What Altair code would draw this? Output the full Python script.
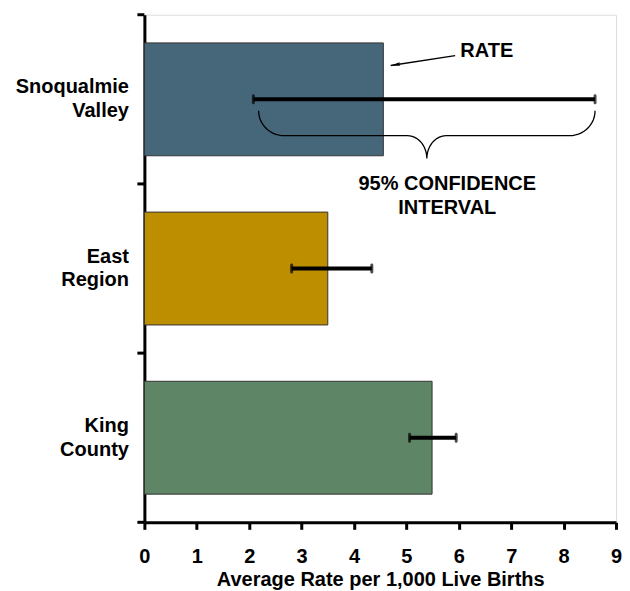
import altair as alt
import pandas as pd
import numpy as np

# ---- data ----
regions = ["Snoqualmie Valley", "East Region", "King County"]
rates = [4.56, 3.50, 5.49]
ci_low = [2.08, 2.81, 5.06]
ci_high = [8.60, 4.34, 5.95]
bar_colors = ["#466779", "#BC8E00", "#5E8566"]
x_ticks = [0, 1, 2, 3, 4, 5, 6, 7, 8, 9]
x_title = "Average Rate per 1,000 Live Births"
rate_label = "RATE"
ci_label_lines = ["95% CONFIDENCE", "INTERVAL"]

FONT = "Liberation Sans"
FS = 20
W, H = 472, 508
XMAX = 9
PX_X = W / XMAX      # pixels per x unit
PX_Y = H / 3         # pixels per band

df = pd.DataFrame({"region": regions, "rate": rates, "lo": ci_low, "hi": ci_high})

xscale = alt.Scale(domain=[0, XMAX], nice=False, zero=True)
yscale = alt.Scale(domain=regions, paddingInner=0, paddingOuter=0)
NB = "\u00a0"
# multi-line y labels, shorter line padded so that lines look centred on each other
label_expr = (
    "datum.label == 'Snoqualmie Valley' ? ['Snoqualmie', 'Valley" + NB * 5 + "'] : "
    "datum.label == 'East Region' ? ['East" + NB * 2 + "', 'Region'] : "
    "['King" + NB * 2 + "', 'County']"
)

y_enc = alt.Y(
    "region:N", scale=yscale, sort=regions, title=None,
    axis=alt.Axis(
        labelExpr=label_expr, ticks=False, labelFont=FONT, labelFontSize=FS,
        labelFontWeight="bold", labelColor="black", labelLineHeight=24,
        labelPadding=16, labelOffset=-12,
        domainWidth=3, domainColor="black", labelAlign="right", labelBaseline="middle",
    ),
)
x_axis = alt.Axis(
    values=x_ticks, title=x_title, labelFont=FONT, labelFontSize=FS, labelFontWeight="bold",
    labelColor="black", labelPadding=17, tickSize=7, tickWidth=3, tickColor="black",
    domainWidth=3, domainColor="black", titleFont=FONT, titleFontSize=FS,
    titleFontWeight="bold", titleColor="black", titlePadding=3, labelAngle=0, grid=False,
    labelFlush=False,
)

base = alt.Chart(df)
bars = base.mark_bar(height={"band": 0.667}, stroke="#333333", strokeWidth=1).encode(
    x=alt.X("rate:Q", scale=xscale, axis=x_axis),
    y=y_enc,
    color=alt.Color("region:N", scale=alt.Scale(domain=regions, range=bar_colors), legend=None),
)
err = base.mark_rule(color="black", strokeWidth=4).encode(
    x=alt.X("lo:Q", scale=xscale), x2="hi:Q", y=alt.Y("region:N", sort=regions)
)
cap_lo = base.mark_tick(color="black", thickness=3, size=10, cornerRadius=1.5).encode(
    x=alt.X("lo:Q", scale=xscale), y=alt.Y("region:N", sort=regions)
)
cap_hi = base.mark_tick(color="black", thickness=3, size=10, cornerRadius=1.5).encode(
    x=alt.X("hi:Q", scale=xscale), y=alt.Y("region:N", sort=regions)
)
main = alt.layer(bars, err, cap_lo, cap_hi)

# ---- annotations (y in band units: 0 = top of first band, 3 = bottom) ----
ayscale = alt.Scale(domain=[0, 3], reverse=True, nice=False, zero=False)

def ay(field):
    return alt.Y(field, scale=ayscale, axis=None)

# y-axis ticks at band boundaries
ytick_df = pd.DataFrame({"y": list(range(len(regions) + 1))})
yticks = alt.Chart(ytick_df).mark_rule(color="black", strokeWidth=3).encode(
    x=alt.value(-7), x2=alt.value(0), y=ay("y:Q")
)

# RATE label + arrow pointing at end of first bar
head = (rates[0] + 0.14, 0.30)
tail = (rates[0] + 1.37, 0.242)
rate_txt = alt.Chart(pd.DataFrame({"x": [tail[0] + 0.1], "y": [0.213], "t": [rate_label]})).mark_text(
    font=FONT, fontSize=FS, fontWeight="bold", align="left", baseline="middle", color="black"
).encode(x=alt.X("x:Q", scale=xscale), y=ay("y:Q"), text="t:N")

arrow_line = alt.Chart(pd.DataFrame({"x": [head[0]], "x2": [tail[0]], "y": [head[1]], "y2": [tail[1]]})).mark_rule(
    color="black", strokeWidth=1.3
).encode(x=alt.X("x:Q", scale=xscale), x2="x2:Q", y=ay("y:Q"), y2="y2:Q")

dxp = (tail[0] - head[0]) * PX_X
dyp = (tail[1] - head[1]) * PX_Y   # band units grow downward like screen y
L = np.hypot(dxp, dyp)
ux, uy = dxp / L, dyp / L          # unit vector head->tail (screen)
ang = float(np.degrees(np.arctan2(uy, ux))) % 360
size = 90
r = np.sqrt(size) / 2
hx = head[0] + ux * r / PX_X
hy = head[1] + uy * r / PX_Y
arrow_path = "M-1,0 L1,-0.38 L0.8,0 L1,0.38 Z"
arrow_head = alt.Chart(pd.DataFrame({"x": [hx], "y": [hy]})).mark_point(
    shape=arrow_path, filled=True, color="black", size=size, angle=ang, opacity=1
).encode(x=alt.X("x:Q", scale=xscale), y=ay("y:Q"))

# curly brace under the first confidence interval
a, b = ci_low[0] + 0.1, ci_high[0]
m = (a + b) / 2
y0, y1, y2 = 0.568, 0.715, 0.85
r1, r2 = 0.49, 0.37
t = np.linspace(0, np.pi / 2, 14)
xs, ys = [], []
xs += list(a + r1 * (1 - np.cos(t))); ys += list(y0 + (y1 - y0) * np.sin(t))
xs += list(m - r2 + r2 * np.sin(t)); ys += list(y1 + (y2 - y1) * (1 - np.cos(t)))
xs += list(m + r2 - r2 * np.cos(t)); ys += list(y1 + (y2 - y1) * (1 - np.sin(t)))
xs += list(b - r1 + r1 * np.sin(t)); ys += list(y1 - (y1 - y0) * (1 - np.cos(t)))
brace_df = pd.DataFrame({"x": xs, "y": ys, "i": range(len(xs))})
brace = alt.Chart(brace_df).mark_line(color="black", strokeWidth=1.3).encode(
    x=alt.X("x:Q", scale=xscale), y=ay("y:Q"), order="i:Q"
)

ci_txt = alt.Chart(pd.DataFrame({"x": [m + 0.39, m + 0.39], "y": [1.001, 1.143], "t": ci_label_lines})).mark_text(
    font=FONT, fontSize=FS, fontWeight="bold", align="center", baseline="middle", color="black"
).encode(x=alt.X("x:Q", scale=xscale), y=ay("y:Q"), text="t:N")

ann = alt.layer(yticks, brace, arrow_line, arrow_head, rate_txt, ci_txt)

chart = (
    alt.layer(main, ann)
    .resolve_scale(y="independent")
    .properties(width=W, height=H, padding={"left": 6.5, "top": 4.5, "right": 0, "bottom": 0})
    .configure_view(stroke=None)
    .configure(background="white")
)

chart.save("out.html", embed_options={"renderer": "svg", "actions": False})
